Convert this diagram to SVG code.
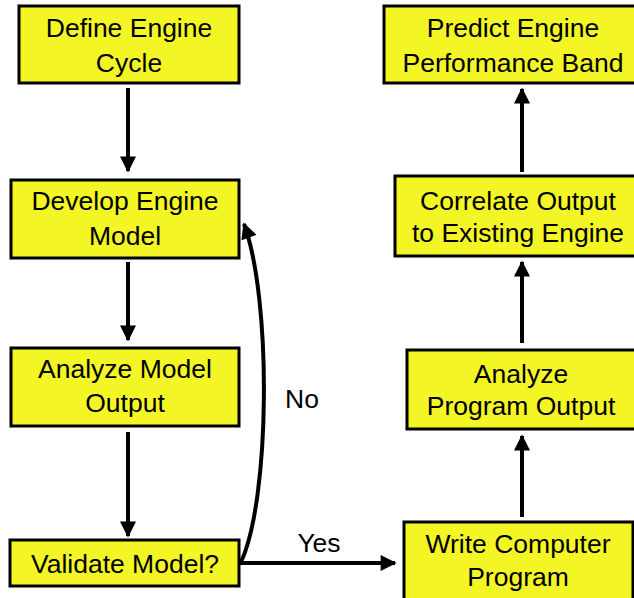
<svg xmlns="http://www.w3.org/2000/svg" width="634" height="598" viewBox="0 0 634 598">
<defs>
<style>
.box{fill:#F3F624;stroke:#000;stroke-width:3}
.t{font-family:"Liberation Sans",Arial,sans-serif;font-size:26.5px;fill:#000;text-anchor:middle}
.c{stroke:#000;stroke-width:4;fill:none}
</style>
<marker id="ah" viewBox="0 0 10 10" refX="9" refY="5" markerWidth="4.2" markerHeight="4" markerUnits="strokeWidth" orient="auto">
<path d="M0,0 L10,5 L0,10 z" fill="#000"/>
</marker>
</defs>
<rect width="634" height="598" fill="#fff"/>
<g id="connectors">
<line class="c" x1="128" y1="88" x2="128" y2="171" marker-end="url(#ah)"/>
<line class="c" x1="128" y1="262" x2="128" y2="340" marker-end="url(#ah)"/>
<line class="c" x1="128" y1="432" x2="128" y2="536" marker-end="url(#ah)"/>
<line class="c" x1="240" y1="563" x2="395" y2="563" marker-end="url(#ah)"/>
<path class="c" d="M241,562 C270,500 272,300 244,224" marker-end="url(#ah)"/>
<line class="c" x1="522" y1="517" x2="522" y2="436" marker-end="url(#ah)"/>
<line class="c" x1="522" y1="343" x2="522" y2="262" marker-end="url(#ah)"/>
<line class="c" x1="522" y1="172" x2="522" y2="89" marker-end="url(#ah)"/>
<text class="t" x="302" y="408">No</text>
<text class="t" x="319" y="552">Yes</text>
</g>
<g id="define">
<rect class="box" x="19" y="6" width="220" height="77"/>
<text class="t" x="129" y="37">Define Engine</text>
<text class="t" x="129" y="72">Cycle</text>
</g>
<g id="develop">
<rect class="box" x="11" y="180" width="228" height="78"/>
<text class="t" x="125" y="210">Develop Engine</text>
<text class="t" x="125" y="245">Model</text>
</g>
<g id="analyzeModel">
<rect class="box" x="11" y="348" width="228" height="78"/>
<text class="t" x="125" y="378">Analyze Model</text>
<text class="t" x="125" y="412">Output</text>
</g>
<g id="validate">
<rect class="box" x="10" y="540" width="229" height="46"/>
<text class="t" x="125" y="573">Validate Model?</text>
</g>
<g id="write">
<rect class="box" x="404" y="522" width="229" height="80"/>
<text class="t" x="518" y="553">Write Computer</text>
<text class="t" x="518" y="586">Program</text>
</g>
<g id="analyzeProgram">
<rect class="box" x="407" y="350" width="230" height="79"/>
<text class="t" x="521" y="383">Analyze</text>
<text class="t" x="521" y="415">Program Output</text>
</g>
<g id="correlate">
<rect class="box" x="395" y="176" width="242" height="80"/>
<text class="t" x="518" y="210">Correlate Output</text>
<text class="t" x="518" y="242">to Existing Engine</text>
</g>
<g id="predict">
<rect class="box" x="384" y="6" width="252" height="77"/>
<text class="t" x="513" y="37">Predict Engine</text>
<text class="t" x="513" y="72">Performance Band</text>
</g>
</svg>
